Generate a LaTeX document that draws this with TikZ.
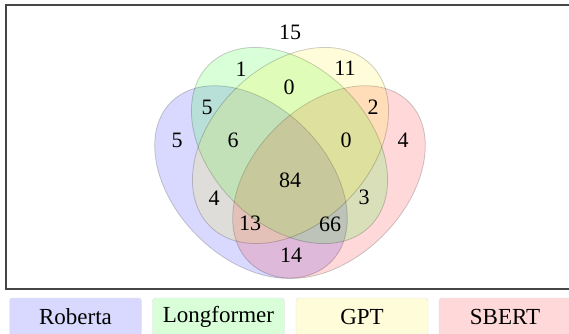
\documentclass[tikz,border=0pt]{standalone}
\usepackage{fontspec}
\setmainfont{Liberation Serif}
\usepackage{tikz}
\usetikzlibrary{positioning}
\definecolor{bleu}{RGB}{0,0,255}
\definecolor{vert}{RGB}{0,255,0}
\definecolor{jaune}{RGB}{255,240,0}
\definecolor{rouge}{RGB}{255,0,0}
\definecolor{cadre}{RGB}{70,70,70}
\tikzset{
  ens/.style={fill opacity=0.15, draw=black, draw opacity=0.1, line width=0.8pt},
  nombre/.style={font=\fontsize{22}{26}\selectfont, inner sep=0pt},
  legende/.style={draw=black!12, rounded corners=3pt, minimum width=132pt, minimum height=38pt,
    inner sep=0pt, font=\fontsize{23}{27}\selectfont}
}

\begin{document}
\begin{tikzpicture}[x=1pt,y=-1pt]
	\useasboundingbox (0,0) rectangle (569,333);
	% cadre
	\draw[cadre, line width=1.2pt] (6,5) rectangle (575,289);
	% ellipses
	\fill[ens, fill=bleu, rotate around={-45:(251,182)}] (251,182) ellipse [x radius=113pt, y radius=76pt];
	\fill[ens, fill=rouge, rotate around={45:(329,182)}] (329,182) ellipse [x radius=113pt, y radius=76pt];
	\fill[ens, fill=vert, rotate around={-45:(289.5,145.5)}] (289.5,145.5) ellipse [x radius=114pt, y radius=79pt];
	\fill[ens, fill=jaune, rotate around={45:(290.5,145.5)}] (290.5,145.5) ellipse [x radius=114pt, y radius=79pt];
	\draw[ens, fill=none, rotate around={-45:(251,182)}] (251,182) ellipse [x radius=113pt, y radius=76pt];
	\draw[ens, fill=none, rotate around={45:(329,182)}] (329,182) ellipse [x radius=113pt, y radius=76pt];
	\draw[ens, fill=none, rotate around={-45:(289.5,145.5)}] (289.5,145.5) ellipse [x radius=114pt, y radius=79pt];
	\draw[ens, fill=none, rotate around={45:(290.5,145.5)}] (290.5,145.5) ellipse [x radius=114pt, y radius=79pt];
	% effectifs
	\foreach \px/\py/\val [count=\k] in {290/32/15, 241/69/1, 345/68/11, 289/87/0, 207/107/5, 373/107/2,
		177/140/5, 233/140/6, 346/140/0, 403/140/4, 290/180/84, 214/198/4, 250/223/13,
		364/197/3, 330/224/66, 291/255/14}
	\node[nombre] (zone\k) at (\px,\py) {\val};
	% legende
	\foreach \lx/\lab/\col [count=\k] in {75.5/Roberta/bleu, 218.5/Longformer/vert, 362/GPT/jaune, 505/SBERT/rouge}
	\node[legende, fill=\col!15] (leg\k) at (\lx,317) {\lab};
\end{tikzpicture}
\end{document}
